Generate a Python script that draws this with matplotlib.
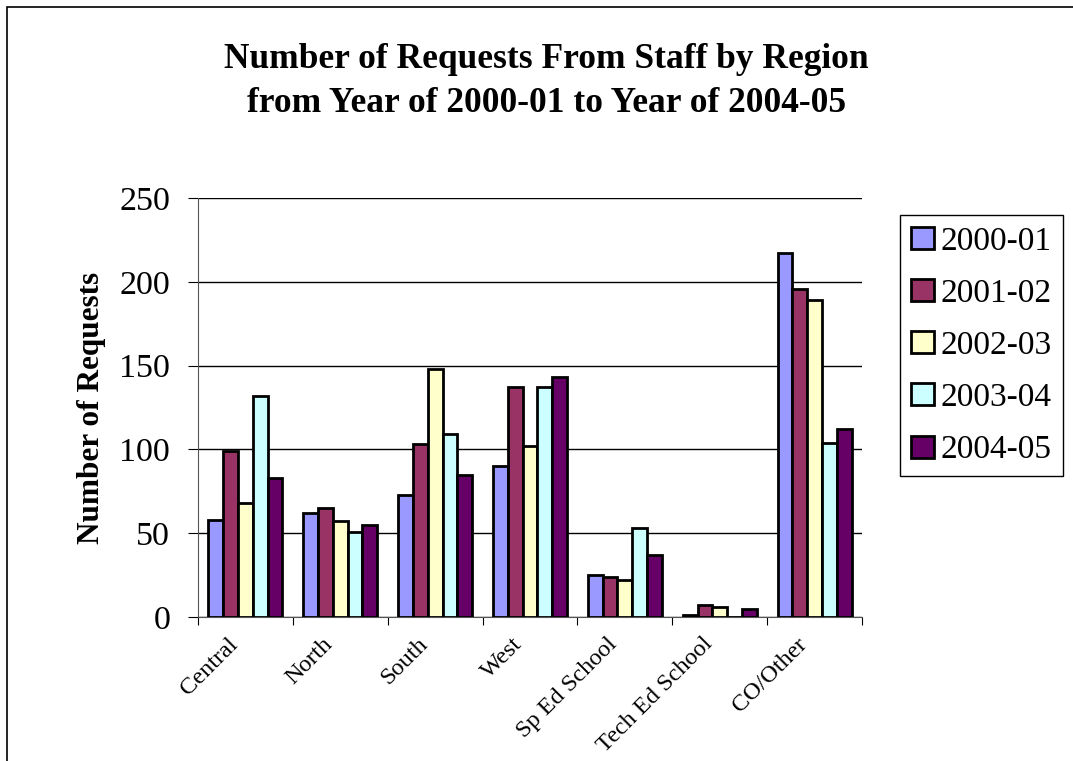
import matplotlib.pyplot as plt
import numpy as np
from matplotlib.patches import Rectangle
from matplotlib.transforms import ScaledTranslation

# Requests per region, one list per school year
regions = ["Central", "North", "South", "West", "Sp Ed School", "Tech Ed School", "CO/Other"]
years = ["2000-01", "2001-02", "2002-03", "2003-04", "2004-05"]
y2000_01 = [58, 62, 73, 90, 25, 1, 217]
y2001_02 = [99, 65, 103, 137, 24, 7, 196]
y2002_03 = [68, 57, 148, 102, 22, 6, 189]
y2003_04 = [132, 51, 109, 137, 53, 0, 104]
y2004_05 = [83, 55, 85, 143, 37, 5, 112]
series = [y2000_01, y2001_02, y2002_03, y2003_04, y2004_05]

colors = ["#9999FF", "#993366", "#FFFFCC", "#CCFFFF", "#660066"]

plt.rcParams["font.family"] = ["Liberation Serif", "DejaVu Serif"]

fig = plt.figure(figsize=(10.73, 7.61), dpi=100)
ax = fig.add_axes([0.1845, 0.1892, 0.6189, 0.5506])

x = np.arange(len(regions))
bar_w = 0.156
for i, (vals, col, lab) in enumerate(zip(series, colors, years)):
    ax.bar(x + (i - 2) * bar_w, vals, width=bar_w, color=col, edgecolor="black",
           linewidth=2.0, label=lab, zorder=3)

ax.set_xlim(-0.5, len(regions) - 0.5)
ax.set_ylim(0, 250)
ax.set_yticks(np.arange(0, 251, 50))
ax.tick_params(axis="y", labelsize=24.5, length=7, direction="out", pad=13)
ax.yaxis.grid(True, color="black", linewidth=1.0, zorder=0)

# category separators as major ticks, names centred as minor labels
ax.set_xticks(np.arange(-0.5, len(regions), 1.0))
ax.set_xticklabels([])
ax.set_xticks(x, minor=True)
ax.set_xticklabels(regions, minor=True, rotation=45, ha="right",
                   rotation_mode="anchor", fontsize=17.5)
ax.tick_params(axis="x", which="major", length=6, direction="out")
ax.tick_params(axis="x", which="minor", length=0, pad=12)
shift = ScaledTranslation(-0.18, 0, fig.dpi_scale_trans)
for lbl in ax.get_xticklabels(minor=True):
    lbl.set_transform(lbl.get_transform() + shift)

for side in ["top", "right"]:
    ax.spines[side].set_visible(False)
ax.spines["left"].set_color("#555555")
ax.spines["bottom"].set_color("#555555")

ax.set_ylabel("Number of Requests", fontsize=22.5, fontweight="bold", labelpad=9.5)

fig.text(0.509, 0.9106, "Number of Requests From Staff by Region",
         ha="center", va="baseline", fontsize=25.5, fontweight="bold")
fig.text(0.509, 0.8528, "from Year of 2000-01 to Year of 2004-05",
         ha="center", va="baseline", fontsize=25.5, fontweight="bold")

leg = ax.legend(loc="upper left", bbox_to_anchor=(1.057, 0.959), borderaxespad=0,
                fontsize=24, frameon=True, fancybox=False, edgecolor="black",
                framealpha=1, handlelength=0.7, handleheight=0.64,
                handletextpad=0.2, labelspacing=0.65, borderpad=0.33)
leg.get_frame().set_linewidth(1.0)

# outer chart border
fig.patches.append(Rectangle((7 / 1073, -0.1), 1.2, (761 - 7) / 761 + 0.1,
                             transform=fig.transFigure, fill=False,
                             edgecolor="black", linewidth=1.2))

fig.savefig("out.png", dpi=100)
